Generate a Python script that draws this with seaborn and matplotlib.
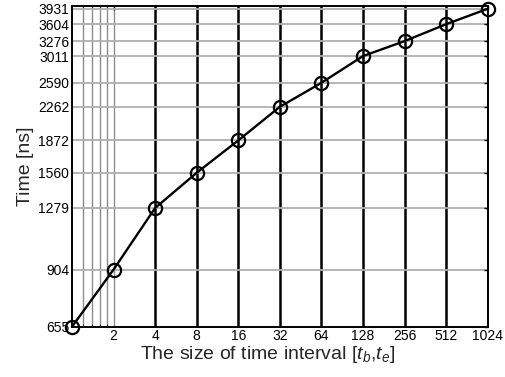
import matplotlib
matplotlib.use("Agg")
import matplotlib.pyplot as plt
import seaborn as sns
import pandas as pd

interval_sizes = [1, 2, 4, 8, 16, 32, 64, 128, 256, 512, 1024]
times_ns = [655, 904, 1279, 1560, 1872, 2262, 2590, 3011, 3276, 3604, 3931]
x_tick_values = [2, 4, 8, 16, 32, 64, 128, 256, 512, 1024]
x_tick_labels = ["2", "4", "8", "16", "32", "64", "128", "256", "512", "1024"]
y_tick_labels = ["655", "904", "1279", "1560", "1872", "2262", "2590", "3011", "3276", "3604", "3931"]
x_minor_values = [1.2, 1.4, 1.6, 1.8]

sns.set_style("white")
plt.rcParams['font.family'] = ['Liberation Sans', 'DejaVu Sans']
plt.rcParams['mathtext.fontset'] = 'custom'
plt.rcParams['mathtext.rm'] = 'Liberation Sans'
plt.rcParams['mathtext.it'] = 'Liberation Sans:italic'

df = pd.DataFrame({"size": interval_sizes, "time": times_ns})

fig = plt.figure(figsize=(5.06, 3.77), dpi=100)
ax = fig.add_axes([0.1423, 0.1334, 0.9638 - 0.1423, 0.9849 - 0.1334])

ax.set_xscale("log", base=2)
ax.set_yscale("log")

sns.lineplot(data=df, x="size", y="time", ax=ax, color="black", linewidth=1.7,
             marker="o", markersize=9.5, markerfacecolor="none",
             markeredgecolor="black", markeredgewidth=1.6, zorder=5, clip_on=False)

ax.set_xlim(1, 1024)
ax.set_ylim(655, 4000)

ax.set_xticks(x_tick_values)
ax.set_xticklabels(x_tick_labels)
ax.set_xticks(x_minor_values, minor=True)
ax.set_xticklabels([], minor=True)
ax.set_yticks(times_ns)
ax.set_yticklabels(y_tick_labels)
ax.yaxis.set_minor_locator(matplotlib.ticker.NullLocator())

ax.grid(True, which="major", axis="x", color="black", linewidth=1.8)
ax.grid(True, which="minor", axis="x", color="#8c8c8c", linewidth=1.0)
ax.grid(True, which="major", axis="y", color="#b0b0b0", linewidth=1.3)
xg = ax.get_xgridlines()
if len(xg) > 0:
    xg[0].set_color("#8c8c8c")
    xg[0].set_linewidth(1.0)

ax.tick_params(axis="both", which="major", direction="in", length=3, width=1,
               labelsize=10, top=True, right=True, pad=2, colors="black")
ax.tick_params(axis="x", which="minor", direction="in", length=2, top=True, bottom=True)

for s in ax.spines.values():
    s.set_color("black")
    s.set_linewidth(1.4)
    s.set_visible(True)

ax.set_xlabel("The size of time interval [$t_b$,$t_e$]", fontsize=14, labelpad=0)
ax.xaxis.set_label_coords(0.47, -0.055, transform=ax.transAxes)
ax.xaxis.label.set_va("top")
ax.set_ylabel("Time [ns]", fontsize=14, labelpad=3)

fig.savefig("out.png", dpi=100)
